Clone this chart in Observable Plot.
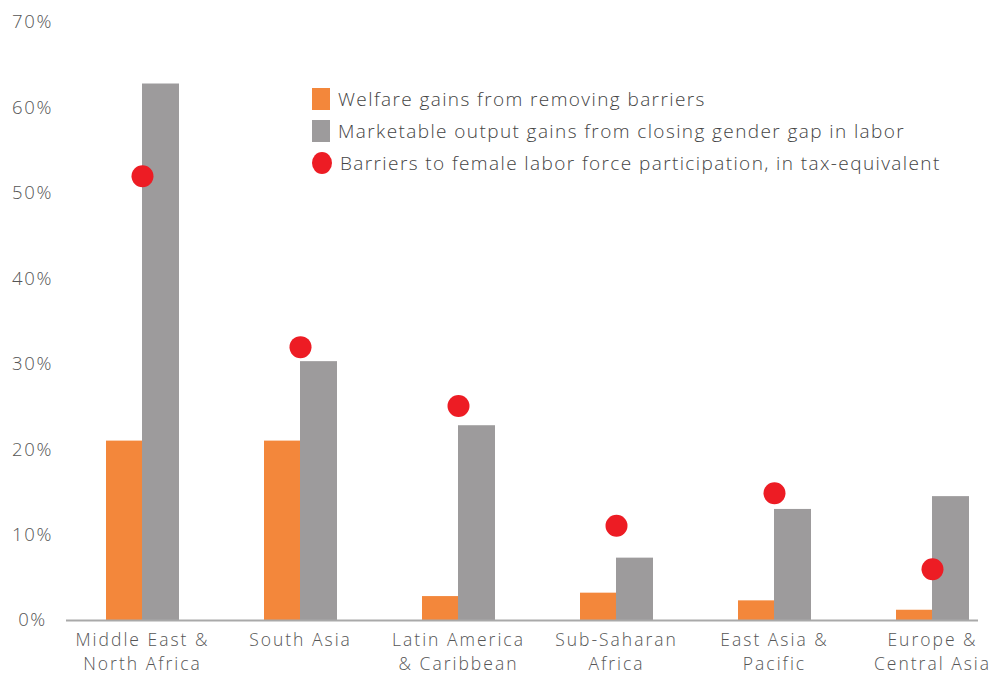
<!DOCTYPE html>
<html>
<head>
<meta charset="utf-8">
<script src="https://cdn.jsdelivr.net/npm/d3@7"></script>
<script src="https://cdn.jsdelivr.net/npm/@observablehq/plot@0.6"></script>
<style>
  html, body { margin: 0; padding: 0; background: #fff; }
  #wrap { position: relative; width: 993px; height: 677px; font-family: "Open Sans", Lato, sans-serif; font-weight: 300; }
  #legend { position: absolute; left: 312px; top: 83px; color: #444; font-size: 19px; letter-spacing: 1.4px; }
  .item { display: flex; align-items: center; height: 32px; }
  .sw { width: 18px; height: 22px; margin-right: 8px; }
  .dotsw { width: 20px; height: 22px; border-radius: 50%; margin-right: 8px; }
  svg text { letter-spacing: 1.6px; }
  svg g[aria-label="x-axis tick label"] text { letter-spacing: 2px; }
</style>
</head>
<body>
<div id="wrap"></div>
<script>
const regions = ["Middle East &\nNorth Africa", "South Asia", "Latin America\n& Caribbean", "Sub-Saharan\nAfrica", "East Asia &\nPacific", "Europe &\nCentral Asia"];
const welfare = [21.0, 21.0, 2.8, 3.2, 2.3, 1.2];
const marketable = [62.8, 30.3, 22.8, 7.3, 13.0, 14.5];
const barriers = [52.0, 32.0, 25.1, 11.1, 14.9, 6.0];
const yTicks = [0, 10, 20, 30, 40, 50, 60, 70];
const seriesNames = ["Welfare gains from removing barriers", "Marketable output gains from closing gender gap in labor", "Barriers to female labor force participation, in tax-equivalent"];
const colors = ["#F3873B", "#9D9B9C", "#ED1C24"];

const rows = regions.map((r, i) => ({region: r, welfare: welfare[i], marketable: marketable[i], barriers: barriers[i]}));

const chart = Plot.plot({
  width: 993,
  height: 677,
  marginLeft: 66,
  marginRight: 15,
  marginTop: 22,
  marginBottom: 57,
  style: {fontFamily: "'Open Sans', Lato, sans-serif", fontWeight: 300, fontSize: "18px", color: "#555", background: "#fff"},
  x: {domain: regions, paddingInner: 0, paddingOuter: -0.114, align: 0.083, label: null},
  y: {domain: [0, 70], label: null},
  marks: [
    Plot.axisY({ticks: yTicks, tickSize: 0, tickPadding: 0, textAnchor: "middle", dx: -34, tickFormat: d => d + "%", fontSize: 18.5, fill: "#555"}),
    Plot.axisX({tickSize: 0, tickPadding: 8, fontSize: 17.5, fill: "#555", lineHeight: 1.39}),
    Plot.barY(rows, {x: "region", y: "welfare", fill: colors[0], insetLeft: 43, insetRight: 79}),
    Plot.barY(rows, {x: "region", y: "marketable", fill: colors[1], insetLeft: 79, insetRight: 42}),
    Plot.ruleY([0], {stroke: "#a9a9a9", strokeWidth: 2}),
    Plot.dot(rows, {x: "region", y: "barriers", r: 11, fill: colors[2], stroke: null})
  ]
});

const wrap = document.getElementById("wrap");
wrap.appendChild(chart);
const legend = document.createElement("div");
legend.id = "legend";
seriesNames.forEach((name, i) => {
  const item = document.createElement("div");
  item.className = "item";
  const sw = document.createElement("div");
  sw.className = i === 2 ? "dotsw" : "sw";
  sw.style.background = colors[i];
  const t = document.createElement("span");
  t.textContent = name;
  item.appendChild(sw);
  item.appendChild(t);
  legend.appendChild(item);
});
wrap.appendChild(legend);
</script>
</body>
</html>
